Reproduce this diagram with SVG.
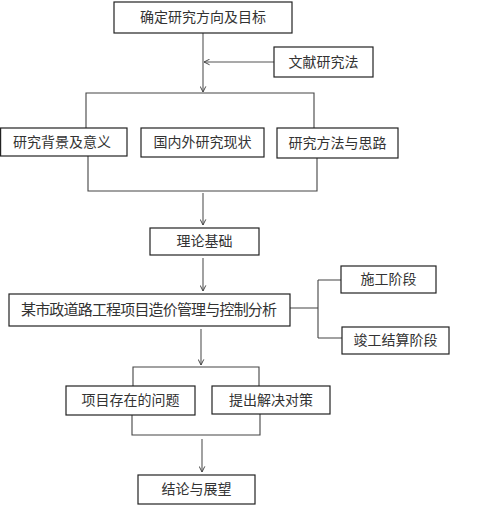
<svg xmlns="http://www.w3.org/2000/svg" width="494" height="511" viewBox="0 0 494 511">
<style>
.box{fill:#fff;stroke:#222;stroke-width:1.2}
.t{font-family:"Liberation Serif","Noto Sans CJK SC",serif;font-size:14px;fill:#333;text-anchor:middle;dominant-baseline:central}
.big{font-size:15px}
.ln{fill:none;stroke:#444;stroke-width:1.1}
.ar{fill:none;stroke:#555;stroke-width:1.1}
</style>
<defs>
<marker id="v" viewBox="0 0 10 10" refX="9" refY="5" markerWidth="7" markerHeight="7" markerUnits="userSpaceOnUse" orient="auto">
<path d="M1,1 L9,5 L1,9" fill="none" stroke="#444" stroke-width="1.4"/>
</marker>
</defs>
<rect width="494" height="511" fill="#fff"/>
<g id="connectors">
<path class="ar" d="M203,33 V92" marker-end="url(#v)"/>
<path class="ar" d="M274,62 H204" marker-end="url(#v)"/>
<path class="ln" d="M86,128 V93 H314 V128"/>
<path class="ln" d="M88,156 V191 H317 V158"/>
<path class="ar" d="M203,193 V225" marker-end="url(#v)"/>
<path class="ar" d="M203,258 V291" marker-end="url(#v)"/>
<path class="ln" d="M290,308 H318 M318,280 V338 M318,280 H341 M318,338 H342"/>
<path class="ar" d="M201,329 V365" marker-end="url(#v)"/>
<path class="ln" d="M133,386 V367 H259 V386"/>
<path class="ln" d="M132,415 V435 H260 V414"/>
<path class="ar" d="M202,439 V472" marker-end="url(#v)"/>
</g>
<g id="n1"><rect class="box" x="114" y="2" width="178" height="31"/><text class="t" x="203" y="17.5">确定研究方向及目标</text></g>
<g id="n2"><rect class="box" x="274" y="47" width="99" height="30"/><text class="t" x="323.5" y="62">文献研究法</text></g>
<g id="n3"><rect class="box" x="0.6" y="128" width="126.4" height="28"/><text class="t" x="62" y="142">研究背景及意义</text></g>
<g id="n4"><rect class="box" x="141" y="128" width="123" height="29"/><text class="t" x="202.5" y="142.5">国内外研究现状</text></g>
<g id="n5"><rect class="box" x="277" y="128" width="121" height="30"/><text class="t" x="337.5" y="143">研究方法与思路</text></g>
<g id="n6"><rect class="box" x="150" y="228" width="109" height="27"/><text class="t" x="204.5" y="241.5">理论基础</text></g>
<g id="n7"><rect class="box" x="9" y="294" width="281" height="32"/><text class="t big" x="149" y="310" textLength="256" lengthAdjust="spacing">某市政道路工程项目造价管理与控制分析</text></g>
<g id="n8"><rect class="box" x="341" y="266" width="95" height="27"/><text class="t" x="388.5" y="279.5">施工阶段</text></g>
<g id="n9"><rect class="box" x="342" y="327" width="107" height="27"/><text class="t" x="395.5" y="340.5">竣工结算阶段</text></g>
<g id="n10"><rect class="box" x="66" y="386" width="129" height="29"/><text class="t" x="130.5" y="400.5">项目存在的问题</text></g>
<g id="n11"><rect class="box" x="212" y="386" width="118" height="28"/><text class="t" x="271" y="400">提出解决对策</text></g>
<g id="n12"><rect class="box" x="138" y="475" width="117" height="29"/><text class="t" x="196.5" y="489.5">结论与展望</text></g>
</svg>
